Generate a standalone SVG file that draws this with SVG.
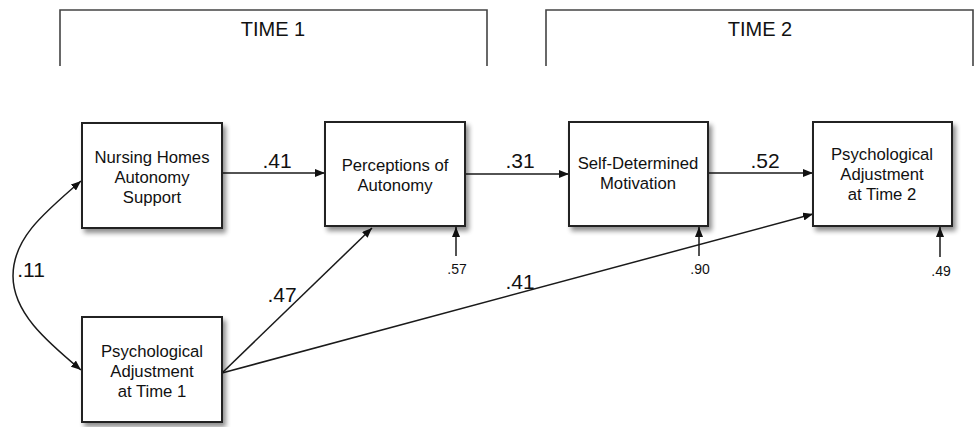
<svg xmlns="http://www.w3.org/2000/svg" width="975" height="427" viewBox="0 0 975 427">
<style>
.bk{fill:none;stroke:#444;stroke-width:1.6}
.box{fill:#fff;stroke:#222;stroke-width:2}
.ln{fill:none;stroke:#1a1a1a;stroke-width:1.5}
.t{font-family:"Liberation Sans",Arial,sans-serif;fill:#111;text-anchor:middle}
.n{font-size:16.7px}
.c{font-size:21px}
.s{font-size:14px}
.h{font-size:20px}
</style>
<defs>
<marker id="ah" viewBox="0 0 10 8" refX="10" refY="4" markerWidth="10" markerHeight="8" markerUnits="userSpaceOnUse" orient="auto-start-reverse">
<path d="M0,0 L10,4 L0,8 Z" fill="#111"/>
</marker>
<filter id="sh" x="-10%" y="-10%" width="125%" height="130%">
<feGaussianBlur in="SourceAlpha" stdDeviation="2.5"/>
<feOffset dx="3" dy="4" result="b"/>
<feComponentTransfer><feFuncA type="linear" slope="0.45"/></feComponentTransfer>
<feMerge><feMergeNode/><feMergeNode in="SourceGraphic"/></feMerge>
</filter>
</defs>
<rect width="975" height="427" fill="#fff"/>
<g id="time1">
<path class="bk" d="M60,66 V10 H487 V66"/>
<text class="t h" x="273" y="36">TIME 1</text>
</g>
<g id="time2">
<path class="bk" d="M546,66 V10 H973 V66"/>
<text class="t h" x="760" y="36">TIME 2</text>
</g>
<g id="connectors">
<line class="ln" x1="222" y1="173" x2="325" y2="173" marker-end="url(#ah)"/>
<line class="ln" x1="465" y1="174" x2="569" y2="174" marker-end="url(#ah)"/>
<line class="ln" x1="708" y1="173" x2="813" y2="173" marker-end="url(#ah)"/>
<line class="ln" x1="222" y1="373" x2="372" y2="228" marker-end="url(#ah)"/>
<line class="ln" x1="222" y1="373" x2="813" y2="214" marker-end="url(#ah)"/>
<path class="ln" d="M81,181 C40,216 13,240 13,276 C13,312 45,340 81,370" marker-start="url(#ah)" marker-end="url(#ah)"/>
<line class="ln" x1="456" y1="256" x2="456" y2="227" marker-end="url(#ah)"/>
<line class="ln" x1="699" y1="256" x2="699" y2="227" marker-end="url(#ah)"/>
<line class="ln" x1="940" y1="257" x2="940" y2="227" marker-end="url(#ah)"/>
<text class="t c" x="277" y="168">.41</text>
<text class="t c" x="520" y="168">.31</text>
<text class="t c" x="765" y="168">.52</text>
<text class="t c" x="282" y="302">.47</text>
<text class="t c" x="520" y="289">.41</text>
<text class="t c" x="31" y="277">.11</text>
<text class="t s" x="457" y="274">.57</text>
<text class="t s" x="700" y="274">.90</text>
<text class="t s" x="941" y="276">.49</text>
</g>
<g id="nursing">
<rect class="box" x="82" y="123" width="140" height="105" filter="url(#sh)"/>
<text class="t n" x="152" y="163">Nursing Homes</text>
<text class="t n" x="152" y="183">Autonomy</text>
<text class="t n" x="152" y="203">Support</text>
</g>
<g id="perceptions">
<rect class="box" x="325" y="122" width="140" height="104" filter="url(#sh)"/>
<text class="t n" x="395" y="171">Perceptions of</text>
<text class="t n" x="395" y="191">Autonomy</text>
</g>
<g id="selfdet">
<rect class="box" x="569" y="122" width="139" height="104" filter="url(#sh)"/>
<text class="t n" x="638" y="169">Self-Determined</text>
<text class="t n" x="638" y="189">Motivation</text>
</g>
<g id="adj2">
<rect class="box" x="813" y="122" width="139" height="104" filter="url(#sh)"/>
<text class="t n" x="882" y="160">Psychological</text>
<text class="t n" x="882" y="180">Adjustment</text>
<text class="t n" x="882" y="200">at Time 2</text>
</g>
<g id="adj1">
<rect class="box" x="82" y="317" width="140" height="105" filter="url(#sh)"/>
<text class="t n" x="152" y="357">Psychological</text>
<text class="t n" x="152" y="377">Adjustment</text>
<text class="t n" x="152" y="397">at Time 1</text>
</g>
</svg>
